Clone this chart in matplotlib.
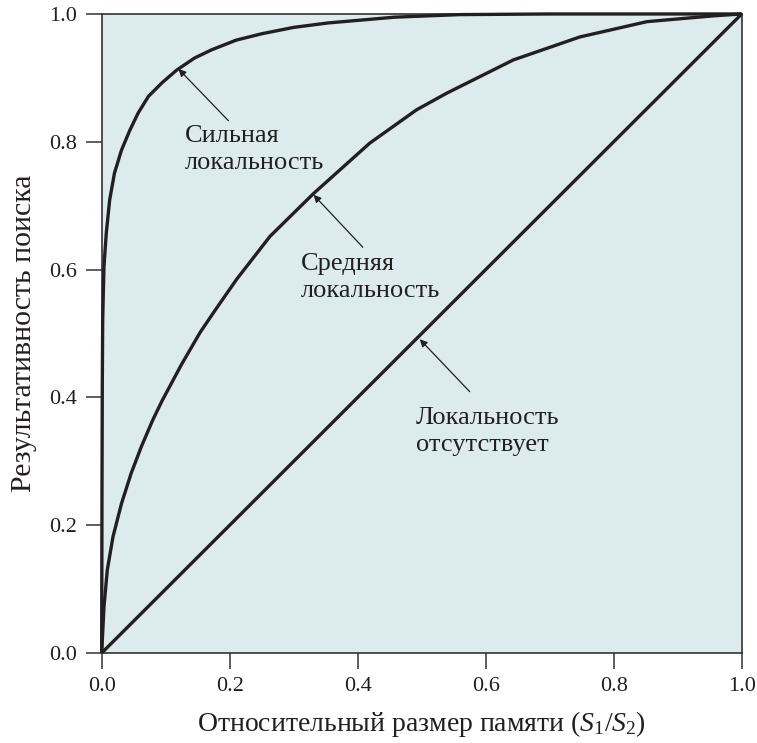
import numpy as np
import matplotlib
matplotlib.use("Agg")
import matplotlib.pyplot as plt

plt.rcParams['font.family'] = ['Liberation Serif', 'DejaVu Serif']
plt.rcParams['mathtext.fontset'] = 'custom'
plt.rcParams['mathtext.rm'] = 'Liberation Serif'
plt.rcParams['mathtext.it'] = 'Liberation Serif:italic'

# curves
strong_x = [0, 0.0005, 0.001, 0.0016, 0.0036, 0.0072, 0.0125, 0.020, 0.031, 0.044,
            0.057, 0.073, 0.095, 0.117, 0.145, 0.172, 0.21, 0.25, 0.30, 0.354,
            0.458, 0.56, 0.7, 1.0]
strong_y = [0, 0.25, 0.42, 0.521, 0.605, 0.657, 0.709, 0.751, 0.787, 0.818,
            0.845, 0.871, 0.893, 0.912, 0.931, 0.944, 0.959, 0.969, 0.979, 0.986,
            0.995, 0.999, 1.0, 1.0]

medium_x = [0, 0.0036, 0.0088, 0.0177, 0.031, 0.046, 0.062, 0.080, 0.094, 0.125,
            0.154, 0.177, 0.211, 0.263, 0.331, 0.419, 0.492, 0.539, 0.643, 0.747,
            0.852, 0.955, 1.0]
medium_y = [0, 0.072, 0.130, 0.182, 0.234, 0.281, 0.323, 0.365, 0.394, 0.452,
            0.502, 0.536, 0.585, 0.652, 0.719, 0.798, 0.850, 0.876, 0.928, 0.964,
            0.988, 0.997, 1.0]

none_x = [0, 1.0]
none_y = [0, 1.0]

ticks = [0.0, 0.2, 0.4, 0.6, 0.8, 1.0]

labels = ["Сильная\nлокальность", "Средняя\nлокальность", "Локальность\nотсутствует"]
label_pos = [(0.130, 0.788), (0.311, 0.588), (0.491, 0.346)]
arrow_tail = [(0.198, 0.833), (0.408, 0.635), (0.575, 0.409)]
arrow_tip = [(0.120, 0.914), (0.331, 0.717), (0.497, 0.491)]

ink = '#231f20'

fig = plt.figure(figsize=(7.57, 7.43), dpi=100)
ax = fig.add_axes([0.1343, 0.1211, 0.9798 - 0.1343, 0.9812 - 0.1211])
ax.set_facecolor('#dcebeb')

for xs, ys in [(strong_x, strong_y), (medium_x, medium_y), (none_x, none_y)]:
    ax.plot(xs, ys, color=ink, lw=2.4, solid_capstyle='butt', solid_joinstyle='round',
            clip_on=False, zorder=3)

for txt, pos in zip(labels, label_pos):
    ax.text(pos[0], pos[1], txt, fontsize=19, ha='left', va='center',
            linespacing=1.3, color=ink)
for tail, tip in zip(arrow_tail, arrow_tip):
    ax.annotate('', xy=tip, xytext=tail,
                arrowprops=dict(arrowstyle='-|>', color=ink, lw=0.9,
                                mutation_scale=11, shrinkA=0, shrinkB=0))

ax.set_xlim(0, 1)
ax.set_ylim(0, 1)
ax.set_xticks(ticks)
ax.set_yticks(ticks)
ax.set_xticklabels([f"{t:.1f}" for t in ticks])
ax.set_yticklabels([f"{t:.1f}" for t in ticks])
ax.tick_params(direction='out', length=11.5, width=1.1, color='#333333',
               labelsize=16, pad=6, labelcolor=ink)
for s in ax.spines.values():
    s.set_color('#333333')
    s.set_linewidth(1.2)

ax.set_xlabel(r"Относительный размер памяти ($S_1$/$S_2$)", fontsize=20,
              color=ink, labelpad=9)
ax.set_ylabel("Результативность поиска", fontsize=21.5, color=ink, labelpad=9)

fig.savefig("out.png", dpi=100)
